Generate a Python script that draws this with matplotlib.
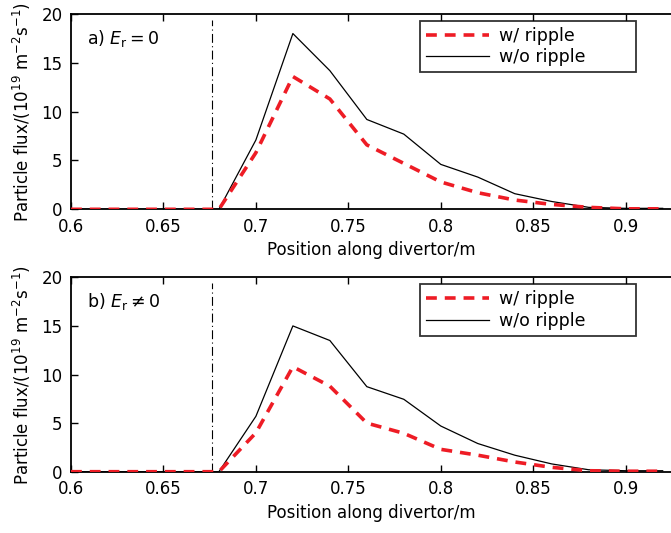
import matplotlib
matplotlib.use("Agg")
import matplotlib.pyplot as plt

# Positions along the divertor (m)
position = [0.60, 0.62, 0.64, 0.66, 0.68, 0.70, 0.72, 0.74, 0.76,
            0.78, 0.80, 0.82, 0.84, 0.86, 0.88, 0.90, 0.92]

# a) E_r = 0
flux_a_ripple = [0, 0, 0, 0, 0, 5.8, 13.6, 11.3, 6.6,
                 4.7, 2.8, 1.7, 0.95, 0.5, 0.2, 0.05, 0.05]
flux_a_noripple = [0, 0, 0, 0, 0, 7.1, 18.0, 14.2, 9.2,
                   7.7, 4.6, 3.3, 1.6, 0.8, 0.2, 0.1, 0.1]

# b) E_r != 0
flux_b_ripple = [0, 0, 0, 0, 0, 4.0, 10.8, 8.8, 5.0,
                 3.95, 2.3, 1.7, 1.0, 0.45, 0.1, 0.05, 0.05]
flux_b_noripple = [0, 0, 0, 0, 0, 5.7, 15.0, 13.5, 8.75,
                   7.45, 4.7, 2.9, 1.7, 0.8, 0.2, 0.1, 0.1]

separatrix = 0.676
xticks = [0.6, 0.65, 0.7, 0.75, 0.8, 0.85, 0.9]
yticks = [0, 5, 10, 15, 20]
panel_labels = [r"a) $E_\mathrm{r} = 0$", r"b) $E_\mathrm{r} \neq 0$"]

plt.rcParams["font.family"] = "DejaVu Sans"
plt.rcParams["mathtext.fontset"] = "dejavusans"

fig = plt.figure(figsize=(6.71, 5.33), dpi=100)
ax_a = fig.add_axes([0.1058, 0.6073, 0.8942, 0.3664])
ax_b = fig.add_axes([0.1058, 0.1150, 0.8942, 0.3647])

datasets = [(ax_a, flux_a_ripple, flux_a_noripple, panel_labels[0]),
            (ax_b, flux_b_ripple, flux_b_noripple, panel_labels[1])]

for ax, rip, norip, label in datasets:
    ax.plot(position, rip, color="#ee1c25", lw=2.6, ls=(0, (3.0, 2.2)),
            label="w/ ripple", zorder=3)
    ax.plot(position, norip, color="black", lw=0.9, label="w/o ripple", zorder=2)
    ax.axvline(separatrix, ymin=0.0, ymax=0.97, color="black", lw=0.8,
               ls=(0, (8, 3, 1, 3)))
    ax.set_xlim(0.6, 0.9245)
    ax.set_ylim(0, 20)
    ax.set_xticks(xticks)
    ax.set_xticklabels(["0.6", "0.65", "0.7", "0.75", "0.8", "0.85", "0.9"])
    ax.set_yticks(yticks)
    ax.tick_params(direction="in", top=True, right=False, length=5,
                   width=1.0, labelsize=12, pad=6)
    for s in ["left", "top", "bottom"]:
        ax.spines[s].set_linewidth(1.3)
    ax.spines["right"].set_visible(False)
    ax.set_xlabel("Position along divertor/m", fontsize=12, labelpad=4)
    ax.set_ylabel(r"Particle flux/$(10^{19}\ \mathrm{m}^{-2}\mathrm{s}^{-1})$",
                  fontsize=12, labelpad=6)
    ax.text(0.027, 0.877, label, transform=ax.transAxes, fontsize=12.5,
            va="center", ha="left")
    leg = ax.legend(loc="upper left", bbox_to_anchor=(0.5817, 0.965, 0.36, 0.0),
                    mode="expand", fontsize=12.5, frameon=True, fancybox=False,
                    handlelength=3.6, handletextpad=0.6, borderpad=0.35,
                    labelspacing=0.2, borderaxespad=0.0)
    leg.get_frame().set_edgecolor("black")
    leg.get_frame().set_linewidth(1.3)

fig.savefig("out.png", dpi=100)
